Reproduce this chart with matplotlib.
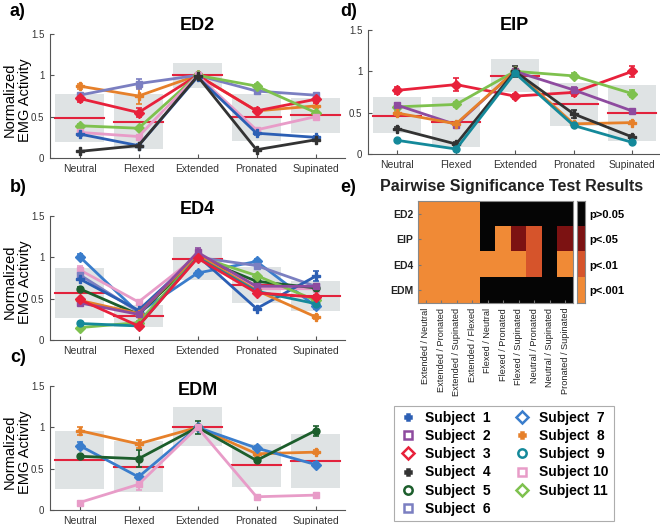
import matplotlib.pyplot as plt
import numpy as np
from matplotlib.colors import ListedColormap
from matplotlib.lines import Line2D

plt.rcParams['font.family'] = ['Liberation Sans', 'DejaVu Sans']

# Posture categories
postures = ['Neutral', 'Flexed', 'Extended', 'Pronated', 'Supinated']

# Subject colours and markers
subj_colors = {1: '#2c5fb4', 2: '#8e4b9f', 3: '#e8213b', 4: '#333333', 5: '#1c5e2c',
               6: '#7b7fc1', 7: '#3a7dcc', 8: '#e6802a', 9: '#14899a', 10: '#e89cc8', 11: '#7ec14e'}
subj_markers = {1: 'P', 2: 's', 3: 'D', 4: 'P', 5: 'o', 6: 's', 7: 'D', 8: 'P', 9: 'o', 10: 's', 11: 'D'}

# ED2: subject -> (values, errors)
ed2 = {8: ([0.87, 0.75, 1.00, 0.57, 0.63], [0.03, 0.10, 0.02, 0.02, 0.03]),
       6: ([0.76, 0.90, 1.00, 0.81, 0.76], [0.02, 0.06, 0.02, 0.04, 0.02]),
       3: ([0.72, 0.55, 1.00, 0.57, 0.71], [0.04, 0.06, 0.02, 0.03, 0.04]),
       11: ([0.39, 0.36, 1.00, 0.87, 0.55], [0.02, 0.02, 0.02, 0.03, 0.02]),
       10: ([0.31, 0.26, 1.00, 0.34, 0.50], [0.02, 0.02, 0.02, 0.02, 0.02]),
       1: ([0.29, 0.15, 0.98, 0.30, 0.25], [0.02, 0.02, 0.03, 0.02, 0.02]),
       4: ([0.08, 0.15, 0.99, 0.10, 0.22], [0.01, 0.01, 0.02, 0.01, 0.02])}
ed2_mean = [0.48, 0.44, 1.00, 0.49, 0.52]
ed2_box_lo = [0.19, 0.11, 0.85, 0.21, 0.30]
ed2_box_hi = [0.77, 0.77, 1.15, 0.77, 0.73]

# ED4
ed4 = {7: ([1.01, 0.33, 0.81, 0.95, 0.41], [0.03, 0.02, 0.03, 0.03, 0.03]),
       10: ([0.85, 0.46, 1.02, 0.62, 0.62], [0.04, 0.02, 0.03, 0.02, 0.02]),
       6: ([0.79, 0.34, 1.00, 0.90, 0.65], [0.05, 0.02, 0.02, 0.03, 0.02]),
       1: ([0.74, 0.36, 1.02, 0.38, 0.77], [0.02, 0.02, 0.03, 0.02, 0.06]),
       5: ([0.62, 0.31, 1.00, 0.71, 0.63], [0.02, 0.02, 0.03, 0.02, 0.02]),
       11: ([0.15, 0.21, 1.01, 0.78, 0.48], [0.02, 0.02, 0.02, 0.02, 0.02]),
       8: ([0.48, 0.32, 1.03, 0.60, 0.28], [0.02, 0.02, 0.03, 0.02, 0.02]),
       9: ([0.20, 0.17, 1.00, 0.59, 0.44], [0.02, 0.02, 0.02, 0.02, 0.02]),
       2: ([0.45, 0.31, 1.06, 0.65, 0.65], [0.02, 0.02, 0.05, 0.02, 0.02]),
       3: ([0.49, 0.17, 0.99, 0.57, 0.52], [0.02, 0.02, 0.03, 0.03, 0.02])}
ed4_mean = [0.57, 0.29, 0.98, 0.67, 0.53]
ed4_box_lo = [0.27, 0.16, 0.72, 0.45, 0.35]
ed4_box_hi = [0.87, 0.42, 1.24, 0.88, 0.71]

# EDM
edm = {8: ([0.96, 0.80, 1.00, 0.68, 0.70], [0.05, 0.05, 0.03, 0.04, 0.02]),
       7: ([0.78, 0.40, 1.00, 0.75, 0.55], [0.04, 0.03, 0.03, 0.03, 0.03]),
       5: ([0.65, 0.62, 1.00, 0.60, 0.96], [0.02, 0.10, 0.08, 0.02, 0.06]),
       10: ([0.09, 0.31, 1.00, 0.16, 0.18], [0.02, 0.07, 0.02, 0.02, 0.03])}
edm_mean = [0.61, 0.525, 1.00, 0.545, 0.595]
edm_box_lo = [0.25, 0.22, 0.77, 0.28, 0.27]
edm_box_hi = [0.96, 0.835, 1.24, 0.80, 0.915]

# EIP
eip = {3: ([0.77, 0.84, 0.70, 0.745, 1.00], [0.04, 0.08, 0.03, 0.04, 0.07]),
       11: ([0.57, 0.60, 1.00, 0.945, 0.73], [0.02, 0.03, 0.02, 0.03, 0.04]),
       2: ([0.59, 0.355, 1.00, 0.775, 0.52], [0.02, 0.02, 0.03, 0.03, 0.02]),
       8: ([0.495, 0.365, 1.00, 0.365, 0.38], [0.02, 0.02, 0.02, 0.02, 0.02]),
       4: ([0.305, 0.12, 1.00, 0.485, 0.205], [0.02, 0.02, 0.07, 0.05, 0.02]),
       9: ([0.165, 0.06, 0.98, 0.345, 0.14], [0.02, 0.02, 0.02, 0.02, 0.02])}
eip_mean = [0.465, 0.39, 0.945, 0.60, 0.495]
eip_box_lo = [0.25, 0.085, 0.755, 0.34, 0.155]
eip_box_hi = [0.69, 0.695, 1.15, 0.855, 0.83]

# Pairwise significance (0: p>0.05, 1: p<.05, 2: p<.01, 3: p<.001)
muscles = ['ED2', 'EIP', 'ED4', 'EDM']
pairs = ['Extended / Neutral', 'Extended / Pronated', 'Extended / Supinated', 'Extended / Flexed',
         'Flexed / Neutral', 'Flexed / Pronated', 'Flexed / Supinated', 'Neutral / Pronated',
         'Neutral / Supinated', 'Pronated / Supinated']
sig_ed2 = [3, 3, 3, 3, 0, 0, 0, 0, 0, 0]
sig_eip = [3, 3, 3, 3, 0, 3, 1, 2, 0, 1]
sig_ed4 = [3, 3, 3, 3, 3, 3, 3, 2, 0, 3]
sig_edm = [3, 3, 3, 3, 0, 0, 0, 0, 0, 0]
sig_labels = ['p>0.05', 'p<.05', 'p<.01', 'p<.001']
sig_colors = ['#050505', '#7c1212', '#d6542b', '#f08a36']

fig = plt.figure(figsize=(6.6, 5.25), dpi=100)
W, H = 660, 525


def px_axes(x0, y0, x1, y1):
    return fig.add_axes([x0 / W, 1 - y1 / H, (x1 - x0) / W, (y1 - y0) / H])


def emg_panel(ax, data, mean, lo, hi, title, ylabel=True, title_y=1.05):
    x = np.arange(1, 6)
    bw = 0.82
    for xi, l, h, m in zip(x, lo, hi, mean):
        ax.add_patch(plt.Rectangle((xi - bw / 2, l), bw, h - l, color='#dfe3e4', lw=0, zorder=0))
        ax.plot([xi - bw / 2, xi + bw / 2], [m, m], color='#e2223c', lw=1.5, zorder=1)
    for s, (vals, errs) in data.items():
        c = subj_colors[s]
        ms = 5 if subj_markers[s] != 'P' else 5.5
        ax.errorbar(x, vals, yerr=errs, color=c, marker=subj_markers[s], ms=ms,
                    mfc=c, mec=c, lw=2, elinewidth=1.3, capsize=2, capthick=1.2, zorder=2)
    ax.set_xlim(0.5, 5.5)
    ax.set_ylim(0, 1.5)
    ax.set_xticks(x)
    ax.set_xticklabels(postures, fontsize=7.5)
    ax.set_yticks([0, 0.5, 1, 1.5])
    ax.set_yticklabels(['0', '0.5', '1', '1.5'], fontsize=7)
    for sp in ['top', 'right']:
        ax.spines[sp].set_visible(False)
    for sp in ['left', 'bottom']:
        ax.spines[sp].set_color('#555555')
        ax.spines[sp].set_linewidth(0.8)
    ax.tick_params(direction='in', length=3, colors='#555555', labelcolor='#333333', pad=4)
    ax.set_title(title, fontsize=13, fontweight='bold', y=title_y, pad=0)
    if ylabel:
        ax.set_ylabel('Normalized\nEMG Activity', fontsize=10.5, linespacing=1.05)
        ax.yaxis.set_label_coords(-0.062, 0.47)


ax_a = px_axes(50, 34, 345, 158)
emg_panel(ax_a, ed2, ed2_mean, ed2_box_lo, ed2_box_hi, 'ED2', title_y=1.03)
ax_b = px_axes(50, 216, 345, 340)
emg_panel(ax_b, ed4, ed4_mean, ed4_box_lo, ed4_box_hi, 'ED4', title_y=1.02)
ax_c = px_axes(50, 386, 345, 510)
emg_panel(ax_c, edm, edm_mean, edm_box_lo, edm_box_hi, 'EDM', title_y=0.93)
ax_d = px_axes(368, 30, 660, 154)
emg_panel(ax_d, eip, eip_mean, eip_box_lo, eip_box_hi, 'EIP', ylabel=False, title_y=1.0)
ax_d.set_xlim(0.5, 5.47)

# Heatmap of pairwise significance
ax_e = px_axes(418, 201, 573, 303)
grid = np.array([sig_ed2, sig_eip, sig_ed4, sig_edm])
cmap = ListedColormap(sig_colors)
ax_e.imshow(grid, cmap=cmap, vmin=-0.5, vmax=3.5, aspect='auto', interpolation='nearest')
ax_e.set_yticks(range(len(muscles)))
ax_e.set_yticklabels(muscles, fontsize=7.5, fontweight='bold')
ax_e.set_xticks(range(len(pairs)))
ax_e.set_xticklabels(pairs, rotation=90, fontsize=6.6)
ax_e.tick_params(length=2, colors='#777777', labelcolor='#222222', direction='in')
for sp in ax_e.spines.values():
    sp.set_color('#888888')

ax_cb = px_axes(577, 201, 585, 303)
ax_cb.imshow(np.arange(4).reshape(4, 1), cmap=cmap, vmin=-0.5, vmax=3.5, aspect='auto')
ax_cb.set_xticks([])
ax_cb.yaxis.tick_right()
ax_cb.set_yticks(range(4))
ax_cb.set_yticklabels(sig_labels, fontsize=8, fontweight='bold')
ax_cb.tick_params(length=0, pad=3)
for sp in ax_cb.spines.values():
    sp.set_color('#888888')

fig.text(380 / W, 1 - 187 / H, 'Pairwise Significance Test Results', fontsize=11.5,
         fontweight='bold', ha='left', va='center', color='#222222')

# Panel letters
for lbl, (px, py) in zip(['a)', 'b)', 'c)', 'd)', 'e)'],
                         [(10, 12), (10, 187), (10, 357), (340, 12), (340, 187)]):
    fig.text(px / W, 1 - py / H, lbl, fontsize=13, fontweight='bold', va='center', ha='left')

# Legend
handles = []
for s in range(1, 12):
    c = subj_colors[s]
    m = subj_markers[s]
    face = c if m == 'P' else 'white'
    handles.append(Line2D([], [], ls='none', marker=m, color=c, mfc=face, mec=c,
                          ms=6 if m != 'P' else 5, mew=1.8))
leg = fig.legend(handles, [f'Subject {s:2d}' for s in range(1, 12)], ncol=2,
                 loc='upper left', bbox_to_anchor=(394 / W, 1 - 406 / H),
                 prop={'weight': 'bold', 'size': 10}, frameon=True, fancybox=False,
                 edgecolor='#999999', labelspacing=0.3, handletextpad=0.6,
                 columnspacing=1.6, handlelength=1.3, borderpad=0.35, borderaxespad=0)
leg.get_frame().set_linewidth(0.8)

fig.savefig('out.png', dpi=100)
